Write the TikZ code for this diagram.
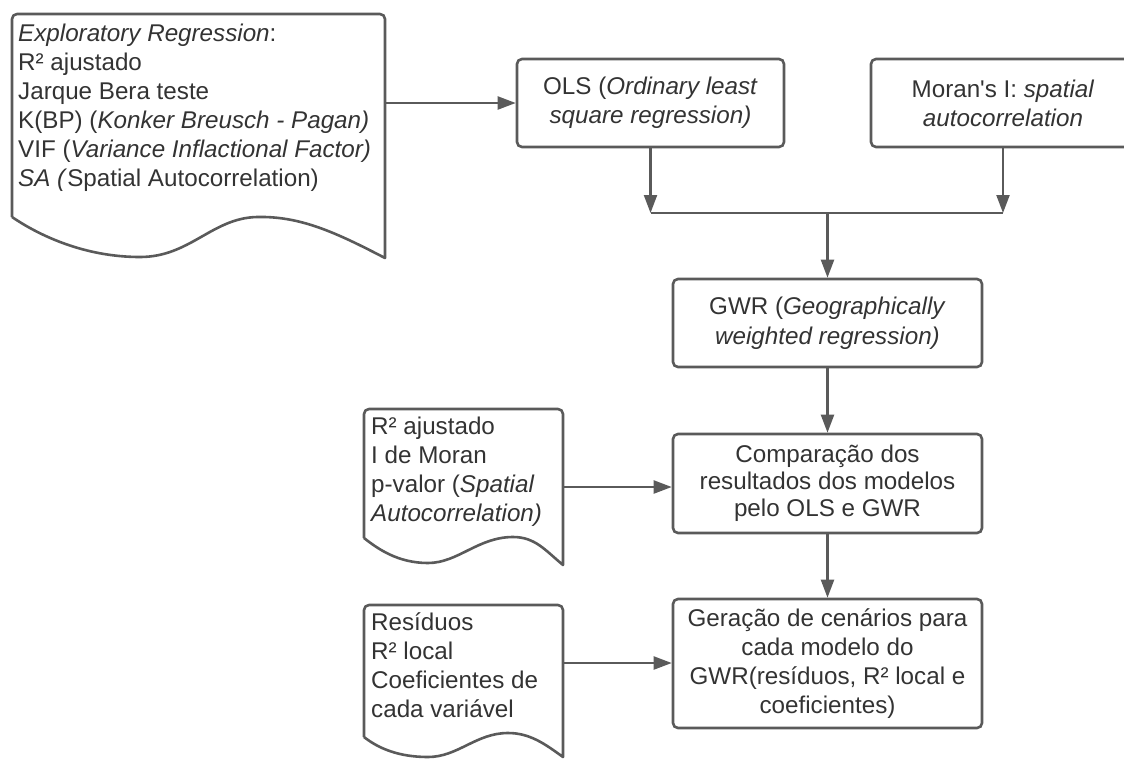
\documentclass[tikz,border=0pt]{standalone}
\usepackage{fontspec}
\setmainfont{Liberation Sans}
\usetikzlibrary{arrows.meta}
\definecolor{ln}{HTML}{5A5A5A}
\definecolor{tx}{HTML}{333333}
\tikzset{
  boxnode/.style={draw=ln, line width=2.6pt, rounded corners=5pt, align=center,
    text=tx, inner sep=0pt, font=\fontsize{24.2}{29}\selectfont},
  docshape/.style={draw=ln, line width=2.6pt, line join=round},
  doctext/.style={anchor=north west, inner sep=0pt, align=left, text=tx,
    font=\fontsize{24.2}{29}\selectfont},
  arr/.style={draw=ln, line width=2.2pt, -{Triangle[length=18pt, width=13pt]}},
  lnk/.style={draw=ln, line width=2.2pt}
}
\begin{document}
\begin{tikzpicture}[x=1pt, y=-1pt]
\useasboundingbox (0,0) rectangle (1124,758);
\begin{scope}
\clip (0,0) rectangle (1124,758);
% document shapes
\draw[docshape] [rounded corners=5pt] (12,217) -- (12,14) -- (385,14) [sharp corners] -- (385,258)
  .. controls (335,232) and (300,216) .. (257,217)
  .. controls (212,218) and (190,257) .. (140,257)
  .. controls (85,257) and (40,236) .. (12,217);
\draw[docshape] [rounded corners=5pt] (364,538) -- (364,409) -- (563,409) [sharp corners] -- (563,565)
  .. controls (545,550) and (535,537) .. (513,537)
  .. controls (478,537) and (458,563) .. (428,563)
  .. controls (398,563) and (378,549) .. (364,538);
\draw[docshape] [rounded corners=5pt] (364,737) -- (364,605) -- (563,605) [sharp corners] -- (563,757)
  .. controls (545,744) and (530,733) .. (508,733)
  .. controls (476,733) and (458,757) .. (428,757)
  .. controls (398,757) and (378,748) .. (364,737);
\node[doctext] (d1) at (18,24) {\textit{Exploratory Regression}:\\
R² ajustado\\
Jarque Bera teste\\
K(BP) (\textit{Konker Breusch - Pagan)}\\
VIF (\textit{Variance Inflactional Factor)}\\
\textit{SA (}Spatial Autocorrelation)};
\node[doctext] (d2) at (371,417) {R² ajustado\\
I de Moran\\
p-valor (\textit{Spatial}\\
\textit{Autocorrelation)}};
\node[doctext] (d3) at (371,612) {Resíduos\\
R² local\\
Coeficientes de\\
cada variável};
% boxes
\node[boxnode, minimum width=267pt, minimum height=88pt] (ols) at (650.5,103)
  {OLS (\textit{Ordinary least}\\ \textit{square regression)}};
\node[boxnode, minimum width=264pt, minimum height=88pt] (moran) at (1003,103)
  {Moran\textquotesingle s I: \textit{spatial}\\ \textit{autocorrelation}};
\node[boxnode, minimum width=309pt, minimum height=88pt, font=\fontsize{24.2}{30}\selectfont] (gwr) at (827.5,323)
  {GWR (\textit{Geographically}\\ \textit{weighted regression)}};
\node[boxnode, minimum width=309pt, minimum height=99pt, font=\fontsize{24.2}{27}\selectfont] (comp) at (827.5,483.5)
  {Comparação dos\\ resultados dos modelos\\ pelo OLS e GWR};
\node[boxnode, minimum width=309pt, minimum height=129pt] (ger) at (827.5,663.5)
  {Geração de cenários para\\ cada modelo do\\ GWR(resíduos, R² local e\\ coeficientes)};
% connectors
\coordinate (d1e) at (385,103);
\coordinate (d2e) at (563,487);
\coordinate (d3e) at (563,663);
\coordinate (jl) at (650.5,213);
\coordinate (jr) at (1003,213);
\coordinate (jm) at (827.5,213);
\draw[arr] (d1e) -- (ols.west |- d1e);
\draw[arr] (ols.south) -- (jl);
\draw[arr] (moran.south) -- (jr);
\draw[lnk] (jl) -- (jr);
\draw[arr] (jm) -- (gwr.north);
\draw[arr] (gwr.south) -- (comp.north);
\draw[arr] (comp.south) -- (ger.north);
\draw[arr] (d2e) -- (comp.west |- d2e);
\draw[arr] (d3e) -- (ger.west |- d3e);
\end{scope}
\end{tikzpicture}
\end{document}
